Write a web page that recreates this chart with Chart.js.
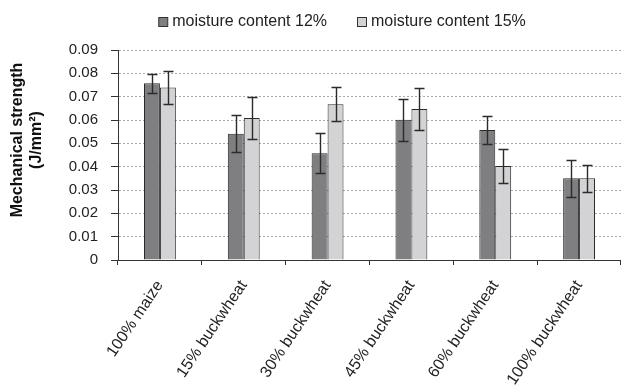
<!DOCTYPE html>
<html>
<head>
<meta charset="utf-8">
<script src="https://cdn.jsdelivr.net/npm/chart.js@4"></script>
<style>
  html, body { margin: 0; padding: 0; background: #fff; }
  #wrap { width: 621px; height: 387px; }
</style>
</head>
<body>
<div id="wrap"><canvas id="c" width="621" height="387"></canvas></div>
<script>
// Mechanical strength of extrudates (J/mm²) by blend and moisture content
const categories = ['100% maize', '15% buckwheat', '30% buckwheat', '45% buckwheat', '60% buckwheat', '100% buckwheat'];
const strength12 = [0.0757, 0.0541, 0.0458, 0.0601, 0.0557, 0.0350];
const strength15 = [0.0739, 0.0609, 0.0668, 0.0647, 0.0403, 0.0350];
const sd12 = [0.0040, 0.0080, 0.0085, 0.0090, 0.0060, 0.0078];
const sd15 = [0.0071, 0.0090, 0.0074, 0.0090, 0.0072, 0.0057];
const yTickValues = [0, 0.01, 0.02, 0.03, 0.04, 0.05, 0.06, 0.07, 0.08, 0.09];
const yTitleLines = ['Mechanical strength', '(J/mm²)'];

const FONT = "'Liberation Sans', Arial, sans-serif";
const INK = '#222';

// Whiskers for ± standard deviation on each bar
const errorBars = {
  id: 'errorBars',
  afterDatasetsDraw(chart) {
    const ctx = chart.ctx;
    const y = chart.scales.y;
    chart.data.datasets.forEach((ds, i) => {
      const meta = chart.getDatasetMeta(i);
      meta.data.forEach((bar, j) => {
        const v = ds.data[j], e = ds.errors[j];
        const top = Math.round(y.getPixelForValue(v + e)) + 0.5;
        const bot = Math.round(y.getPixelForValue(v - e)) + 0.5;
        const x = Math.round(bar.x) + 0.5;
        ctx.save();
        ctx.strokeStyle = '#2b2b2b';
        ctx.lineWidth = 1.4;
        ctx.beginPath();
        ctx.moveTo(x, top); ctx.lineTo(x, bot);
        ctx.moveTo(x - 5, top); ctx.lineTo(x + 5, top);
        ctx.moveTo(x - 5, bot); ctx.lineTo(x + 5, bot);
        ctx.stroke();
        ctx.restore();
      });
    });
  }
};

// Legend row and two-line y-axis title
const annotations = {
  id: 'annotations',
  afterDraw(chart) {
    const ctx = chart.ctx;
    const area = chart.chartArea;
    ctx.save();

    // legend
    ctx.font = `16px ${FONT}`;
    ctx.textBaseline = 'middle';
    ctx.textAlign = 'left';
    const box = 10, gap = 4, between = 30;
    const items = chart.data.datasets.map(ds => ({
      label: ds.label, fill: ds.backgroundColor, w: ctx.measureText(ds.label).width
    }));
    const total = items.reduce((s, it) => s + box + gap + it.w, 0) + between * (items.length - 1);
    let x = 342 - total / 2;
    const cy = 22;
    items.forEach(it => {
      ctx.fillStyle = it.fill;
      ctx.fillRect(x + 0.5, cy - 5 + 0.5, box - 1, box - 1);
      ctx.strokeStyle = '#333';
      ctx.lineWidth = 1;
      ctx.strokeRect(x + 0.5, cy - 5 + 0.5, box - 1, box - 1);
      ctx.fillStyle = INK;
      ctx.fillText(it.label, x + box + gap, cy);
      x += box + gap + it.w + between;
    });

    // y title
    ctx.font = `bold 16px ${FONT}`;
    ctx.fillStyle = '#111';
    ctx.textAlign = 'center';
    ctx.translate(0, 140);
    ctx.rotate(-Math.PI / 2);
    ctx.fillText(yTitleLines[0], 0, 18);
    ctx.fillText(yTitleLines[1], 0, 37);
    ctx.restore();
  }
};

new Chart(document.getElementById('c'), {
  type: 'bar',
  data: {
    labels: categories,
    datasets: [
      {
        label: 'moisture content 12%',
        data: strength12,
        errors: sd12,
        backgroundColor: '#7f7f82',
        borderColor: '#2a2a2a',
        borderWidth: 1
      },
      {
        label: 'moisture content 15%',
        data: strength15,
        errors: sd15,
        backgroundColor: '#d3d3d5',
        borderColor: '#2a2a2a',
        borderWidth: 1
      }
    ]
  },
  options: {
    responsive: false,
    animation: false,
    devicePixelRatio: 1,
    layout: { padding: { left: 0, right: 0, top: 50, bottom: 0 } },
    datasets: {
      bar: { categoryPercentage: 0.38, barPercentage: 1.0 }
    },
    plugins: {
      legend: { display: false },
      tooltip: { enabled: false }
    },
    scales: {
      x: {
        offset: true,
        grid: {
          offset: true,
          drawOnChartArea: false,
          drawTicks: true,
          tickLength: 5,
          tickColor: '#333',
          tickWidth: 1
        },
        border: { color: '#333', width: 1 },
        ticks: {
          minRotation: 56,
          maxRotation: 56,
          padding: 12,
          color: INK,
          font: { family: FONT, size: 16 }
        },
        afterFit(scale) { scale.height = 127; }
      },
      y: {
        min: 0,
        max: 0.09,
        afterBuildTicks(scale) {
          scale.ticks = yTickValues.map(v => ({ value: v }));
        },
        grid: {
          color: '#a8a8a8',
          lineWidth: 1,
          drawTicks: true,
          tickLength: 7,
          tickColor: '#333',
          tickBorderDash: [],
          tickWidth: 1
        },
        border: { color: '#333', width: 1, dash: [2, 2] },
        ticks: {
          padding: 13,
          color: INK,
          font: { family: FONT, size: 15 },
          callback: v => (v === 0 ? '0' : v.toFixed(2))
        },
        afterFit(scale) { scale.width = 118; }
      }
    }
  },
  plugins: [errorBars, annotations]
});
</script>
</body>
</html>
